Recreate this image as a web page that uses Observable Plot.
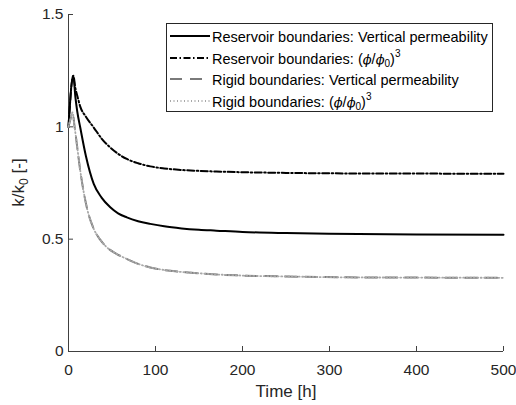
<!DOCTYPE html>
<html><head><meta charset="utf-8">
<script src="https://cdn.jsdelivr.net/npm/d3@7"></script>
<script src="https://cdn.jsdelivr.net/npm/@observablehq/plot@0.6"></script>
<style>
body{margin:0;background:#fff;}
#wrap{position:relative;width:516px;height:405px;font-family:"Liberation Sans",Arial,sans-serif;}
#legend{position:absolute;left:166px;top:23px;width:327px;height:89px;border:1px solid #262626;background:#fff;box-sizing:border-box;font-size:14.5px;color:#000;}
.row{position:absolute;left:0;height:22px;display:flex;align-items:center;white-space:nowrap;}
.row svg{margin-left:3px;margin-right:2px;}
.row i{font-family:"DejaVu Serif",serif;font-size:13px;}
.row sub{font-size:10px;vertical-align:-3px;line-height:0;}
.row sup{font-size:10px;vertical-align:7px;line-height:0;}
</style>
</head><body>
<div id="wrap"><div id="chart"></div><div id="legend"></div></div>
<script>
// ---- data ----
const seriesNames = [
  "Reservoir boundaries: Vertical permeability",
  "Reservoir boundaries: (φ/φ0)^3",
  "Rigid boundaries: Vertical permeability",
  "Rigid boundaries: (φ/φ0)^3"
];
const timeReservoir = [0, 5.5, 8, 10, 13.5, 20, 29, 38, 48, 57, 67, 80, 94, 110, 130, 150, 170, 200, 250, 300, 400, 500];
const reservoirVertical = [1.0, 1.227, 1.13, 1.07, 0.997, 0.87, 0.746, 0.685, 0.642, 0.615, 0.597, 0.58, 0.568, 0.557, 0.548, 0.542, 0.538, 0.532, 0.527, 0.524, 0.521, 0.52];
const reservoirPhi3     = [1.0, 1.227, 1.17, 1.14, 1.09, 1.045, 0.997, 0.948, 0.908, 0.88, 0.857, 0.838, 0.824, 0.815, 0.808, 0.804, 0.801, 0.798, 0.795, 0.793, 0.792, 0.791];
const timeRigid = [0, 2, 4.6, 7, 9.6, 13.5, 17, 21, 29, 36, 44, 55, 67, 80, 94, 120, 150, 170, 200, 250, 322, 400, 500];
const rigidVertical = [1.0, 1.03, 1.064, 1.0, 0.923, 0.805, 0.72, 0.642, 0.546, 0.5, 0.464, 0.435, 0.412, 0.39, 0.374, 0.358, 0.348, 0.343, 0.338, 0.334, 0.330, 0.329, 0.328];
const rigidPhi3     = [1.0, 1.03, 1.064, 1.0, 0.923, 0.805, 0.72, 0.642, 0.546, 0.5, 0.464, 0.435, 0.412, 0.39, 0.374, 0.358, 0.348, 0.343, 0.338, 0.334, 0.330, 0.329, 0.328];
const xTicks = [0, 100, 200, 300, 400, 500];
const yTicks = [0, 0.5, 1, 1.5];
const xLabel = "Time [h]";

const styles = [
  {stroke: "#000", strokeWidth: 2, dash: null},
  {stroke: "#000", strokeWidth: 2, dash: "7,2.5,1.5,2.5"},
  {stroke: "#7a7a7a", strokeWidth: 2, dash: "12,8"},
  {stroke: "#a8a8a8", strokeWidth: 1.8, dash: "1,2.5"}
];
const toRows = (ts, vs) => ts.map((t, i) => ({t, v: vs[i]}));
const series = [
  toRows(timeReservoir, reservoirVertical),
  toRows(timeReservoir, reservoirPhi3),
  toRows(timeRigid, rigidVertical),
  toRows(timeRigid, rigidPhi3)
];

const W = 516, H = 405, mL = 68, mR = 13, mT = 14, mB = 54;
const tickLen = 5;

const chart = Plot.plot({
  width: W, height: H,
  marginLeft: mL, marginRight: mR, marginTop: mT, marginBottom: mB,
  style: {fontFamily: "'Liberation Sans', Arial, sans-serif", fontSize: "15.5px", color: "#262626", background: "#fff"},
  x: {domain: [0, 500]},
  y: {domain: [0, 1.5]},
  marks: [
    Plot.ruleX([0], {stroke: "#404040", strokeWidth: 1}),
    Plot.ruleY([0], {stroke: "#404040", strokeWidth: 1}),
    // inward tick marks
    Plot.tickX(xTicks, {x: d => d, insetTop: (H - mT - mB) - tickLen, stroke: "#404040", strokeWidth: 1}),
    Plot.tickY(yTicks, {y: d => d, insetRight: (W - mL - mR) - tickLen, stroke: "#404040", strokeWidth: 1}),
    Plot.axisX({ticks: xTicks, tickSize: 0, tickPadding: 12, tickFormat: d => d, label: null, fontSize: 15.5}),
    Plot.axisY({ticks: yTicks, tickSize: 0, tickPadding: 5, tickFormat: d => d, label: null, fontSize: 15.5}),
    ...series.map((d, i) => Plot.line(d, {x: "t", y: "v", curve: "monotone-x", stroke: styles[i].stroke, strokeWidth: styles[i].strokeWidth, strokeDasharray: styles[i].dash}))
  ]
});
document.getElementById("chart").appendChild(chart);

const svg = d3.select(chart);
// x-axis label
svg.append("text")
  .attr("x", 286).attr("y", 397)
  .attr("text-anchor", "middle")
  .attr("font-size", 17)
  .attr("fill", "#262626")
  .text(xLabel);
// y-axis label with subscript
const yl = svg.append("text")
  .attr("transform", "translate(24,182.5) rotate(-90)")
  .attr("text-anchor", "middle")
  .attr("font-size", 17)
  .attr("fill", "#262626");
yl.append("tspan").text("k/k");
yl.append("tspan").attr("font-size", 12).attr("dy", 4).text("0");
yl.append("tspan").attr("dy", -4).text(" [-]");

// legend
const legend = document.getElementById("legend");
const labelsHtml = [
  "Reservoir boundaries: Vertical permeability",
  "Reservoir boundaries: (<i>ϕ</i>/<i>ϕ</i><sub>0</sub>)<sup>3</sup>",
  "Rigid boundaries: Vertical permeability",
  "Rigid boundaries: (<i>ϕ</i>/<i>ϕ</i><sub>0</sub>)<sup>3</sup>"
];
const rowCenters = [13, 34.5, 56, 77.5];
labelsHtml.forEach((h, i) => {
  const row = document.createElement("div");
  row.className = "row";
  row.style.top = (rowCenters[i] - 11) + "px";
  const s = styles[i];
  row.innerHTML = `<svg width="40" height="10"><line x1="0" x2="40" y1="4" y2="4" stroke="${s.stroke}" stroke-width="${s.strokeWidth}" ${s.dash ? `stroke-dasharray="${s.dash}"` : ""}/></svg><span>${h}</span>`;
  legend.appendChild(row);
});
</script>
</body></html>
